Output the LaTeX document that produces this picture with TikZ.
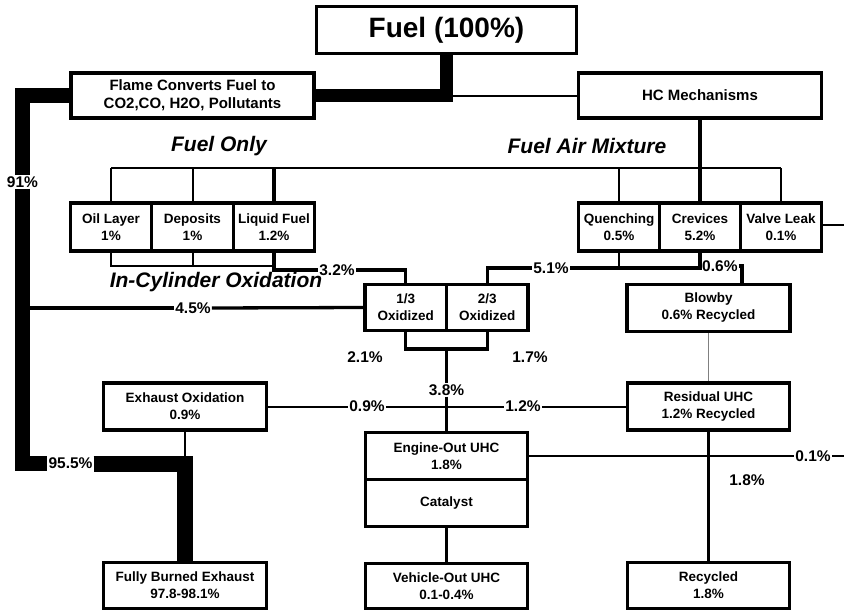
\documentclass[tikz,border=0pt]{standalone}
\usepackage{fontspec}
\setmainfont{Liberation Sans}
\begin{document}
\begin{tikzpicture}[x=1pt,y=-1pt,
  bx/.style n args={2}{draw, line width=3.2pt, minimum width=#1, minimum height=#2, inner sep=0pt, align=center, font=\bfseries\fontsize{13.5}{17}\selectfont},
  pct/.style={inner sep=1pt, font=\bfseries\fontsize{15.5}{17}\selectfont},
  ital/.style={inner sep=0pt, font=\bfseries\itshape\fontsize{21}{24}\selectfont},
  flowa/.style={line width=13pt},
  flowb/.style={line width=14.5pt},
  flowc/.style={line width=16pt},
  med/.style={line width=3.3pt},
  thn/.style={line width=2pt},
  brl/.style={line width=2.6pt}]
\useasboundingbox (0,0) rectangle (844,613);
% boxes
\node[bx={260pt}{47pt}, font=\bfseries\fontsize{28}{30}\selectfont] (fuel) at (446.5,30) {Fuel (100\%)};
\node[bx={243pt}{45pt}, font=\bfseries\fontsize{15}{18}\selectfont] (flame) at (192.5,95.5) {Flame Converts Fuel to\\CO2,CO, H2O, Pollutants};
\node[bx={243pt}{45pt}, font=\bfseries\fontsize{15}{18}\selectfont] (hc) at (700,95.5) {HC Mechanisms};
\node[bx={81.5pt}{48pt}] (oil) at (111,227) {Oil Layer\\1\%};
\node[bx={81.5pt}{48pt}] (dep) at (192.5,227) {Deposits\\1\%};
\node[bx={81.5pt}{48pt}] (liq) at (274,227) {Liquid Fuel\\1.2\%};
\node[bx={81pt}{48pt}] (quen) at (619,227) {Quenching\\0.5\%};
\node[bx={81pt}{48pt}] (crev) at (700,227) {Crevices\\5.2\%};
\node[bx={81pt}{48pt}] (valve) at (781,227) {Valve Leak\\0.1\%};
\node[bx={81.5pt}{46pt}] (oxa) at (405.75,307.5) {1/3\\Oxidized};
\node[bx={81.5pt}{46pt}] (oxb) at (487.25,307.5) {2/3\\Oxidized};
\node[bx={163pt}{47pt}] (blow) at (708.5,308) {Blowby\\0.6\% Recycled};
\node[bx={163pt}{47pt}] (exo) at (185,406.5) {Exhaust Oxidation\\0.9\%};
\node[bx={162pt}{47pt}] (res) at (708.5,406.5) {Residual UHC\\1.2\% Recycled};
\node[bx={162pt}{47pt}] (eng) at (446.5,456) {Engine-Out UHC\\1.8\%};
\node[bx={162pt}{47pt}] (cat) at (446.5,503) {Catalyst};
\node[bx={163pt}{46pt}] (fb) at (185,585.5) {Fully Burned Exhaust\\97.8-98.1\%};
\node[bx={162pt}{45pt}] (veh) at (446.5,586) {Vehicle-Out UHC\\0.1-0.4\%};
\node[bx={162pt}{46pt}] (rec) at (708.5,585.5) {Recycled\\1.8\%};
% italic labels
\node[ital] (tfo) at (219,146) {Fuel Only};
\node[ital] (tfam) at (587,146) {Fuel Air Mixture};
\node[ital] (tico) at (216,282) {In-Cylinder Oxidation};
% percentage labels
\node[pct] (l91) at (22.5,182) {91\%};
\node[pct] (l955) at (70.5,463.5) {95.5\%};
\node[pct] (l32) at (337,270) {3.2\%};
\node[pct] (l45) at (193,308) {4.5\%};
\node[pct] (l51) at (551,268) {5.1\%};
\node[pct, anchor=west] (l06) at (701,266) {0.6\%};
\node[pct] (l21) at (365,357) {2.1\%};
\node[pct] (l17) at (530,357) {1.7\%};
\node[pct] (l38) at (446.5,390) {3.8\%};
\node[pct] (l09) at (367,406.5) {0.9\%};
\node[pct] (l12) at (523,406.5) {1.2\%};
\node[pct] (l01) at (813,456) {0.1\%};
\node[pct] (l18) at (747,480) {1.8\%};
% coordinates
\coordinate (br) at (0,168);
\coordinate (lw) at (0,266);
\coordinate (rw) at (0,268);
\coordinate (brk) at (446.5,349);
\coordinate (btick) at (742,284.5);
\coordinate (redge1) at (844,456);
\coordinate (redge2) at (844,225);
% thick flows
\draw[flowa] (fuel.south) |- (flame.east);
\draw[thn] (fuel.south |- hc.west) -- (hc.west);
\draw[flowb] (flame.west) -| (l91.north);
\draw[flowb] (l91.south) |- (l955.west);
\draw[thn] (exo.south) -- (exo.south |- l955.west);
\draw[flowc] (l955.east) -| (fb.north);
% branches
\draw[brl] (oil.north |- br) -- (valve.north |- br);
\draw[thn] (oil.north) -- (oil.north |- br);
\draw[thn] (dep.north) -- (dep.north |- br);
\draw[thn] (quen.north) -- (quen.north |- br);
\draw[thn] (valve.north) -- (valve.north |- br);
\draw[med] (liq.north) -- (liq.north |- br);
\draw[med] (hc.south) -- (crev.north);
% below left group
\draw[thn] (oil.south) |- (liq.south |- lw);
\draw[thn] (dep.south) -- (dep.south |- lw);
\draw[med] (liq.south) |- (l32.west);
\draw[med] (l32.east) -| (oxa.north);
\draw[med] (oxa.west) -- (l45.east);
\draw[med] (l45.west) -- (l91.south |- l45.west);
% below right group
\draw[thn] (quen.south) -- (quen.south |- rw);
\draw[med] (crev.south) |- (l51.east);
\draw[med] (l51.west) -| (oxb.north);
\draw[med] (l06.east) -| (btick);
\draw[thn] (valve.east |- redge2) -- (redge2);
\draw[gray, line width=1pt] (blow.south) -- (res.north);
% middle
\draw[med] (oxa.south) |- (brk) -| (oxb.south);
\draw[med] (brk) -- (l38.north);
\draw[med] (l38.south) -- (eng.north);
\draw[thn] (exo.east) -- (l09.west);
\draw[thn] (l09.east) -- (l12.west);
\draw[thn] (l12.east) -- (res.west);
\draw[thn] (eng.east) -- (l01.west);
\draw[thn] (l01.east) -- (redge1);
\draw[med] (cat.south) -- (veh.north);
\draw[med] (res.south) -- (rec.north);
\end{tikzpicture}
\end{document}
